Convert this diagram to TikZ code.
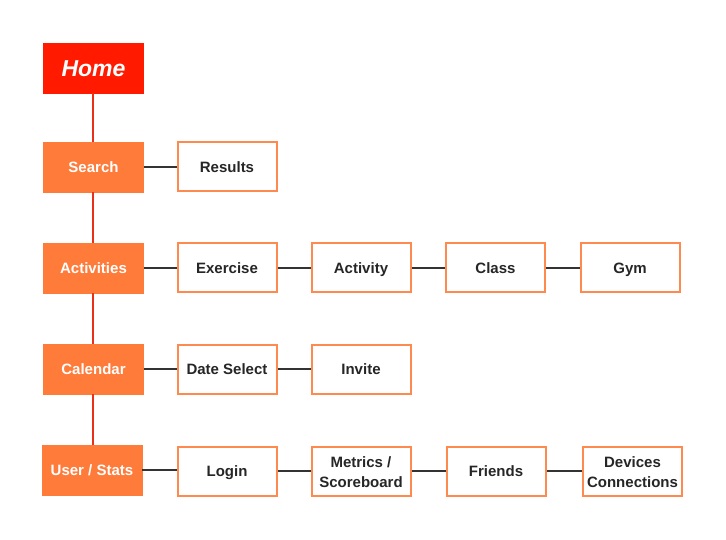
\documentclass[tikz,border=0pt]{standalone}
\usepackage{fontspec}
\setmainfont{Liberation Sans}
\definecolor{homered}{HTML}{FF1A00}
\definecolor{secorange}{HTML}{FF7B3A}
\definecolor{edgeorange}{HTML}{FF8A50}
\definecolor{linedark}{HTML}{333333}
\definecolor{vred}{HTML}{E8301A}
\newcommand\boxstrut{\rule[-3pt]{0pt}{17pt}}
\newcommand\homestrut{\rule[-3.5pt]{0pt}{23.5pt}}
\begin{document}
\begin{tikzpicture}[x=1pt,y=-1pt,
  base/.style={minimum width=100pt,minimum height=50pt,inner sep=0pt,align=center,font=\fontsize{15}{20}\selectfont\bfseries,execute at begin node=\boxstrut,execute at end node=\boxstrut},
  homebox/.style={base,fill=homered,draw=homered,text=white,font=\fontsize{23}{27}\selectfont\bfseries\itshape,execute at begin node=\homestrut,execute at end node=\homestrut},
  secbox/.style={base,fill=secorange,draw=secorange,text=white},
  pagebox/.style={base,fill=white,draw=edgeorange,line width=2pt,minimum width=99pt,minimum height=49pt,text=black!85},
  twoline/.style={execute at begin node={},execute at end node={},text height=36pt,text depth=3pt},
  hline/.style={draw=linedark,line width=1.3pt},
  vline/.style={draw=vred,line width=1.3pt}]
\useasboundingbox (0,0) rectangle (726,540);
\node[homebox] (home) at (93.5,68) {Home};
\node[secbox] (search) at (93.5,167) {Search};
\node[secbox] (activities) at (93.5,268) {Activities};
\node[secbox] (calendar) at (93.5,369) {Calendar};
\node[secbox] (user) at (92,470) {User / Stats};
\node[pagebox] (results) at (227,167) {Results};
\node[pagebox] (exercise) at (227,268) {Exercise};
\node[pagebox] (activity) at (361,268) {Activity};
\node[pagebox] (class) at (495.5,268) {Class};
\node[pagebox] (gym) at (630,268) {Gym};
\node[pagebox] (date) at (227,369) {Date Select};
\node[pagebox] (invite) at (361,369) {Invite};
\node[pagebox] (login) at (227,471) {Login};
\node[pagebox,twoline] (metrics) at (361,471) {Metrics /\\Scoreboard};
\node[pagebox] (friends) at (496,471) {Friends};
\node[pagebox,twoline] (devices) at (632.5,471) {Devices\\Connections};
\draw[vline] (home.south -| 93,0) -- (search.north -| 93,0);
\draw[vline] (search.south -| 93,0) -- (activities.north -| 93,0);
\draw[vline] (activities.south -| 93,0) -- (calendar.north -| 93,0);
\draw[vline] (calendar.south -| 93,0) -- (user.north -| 93,0);
\draw[hline] (search) -- (results);
\draw[hline] (activities) -- (exercise);
\draw[hline] (exercise) -- (activity);
\draw[hline] (activity) -- (class);
\draw[hline] (class) -- (gym);
\draw[hline] (calendar) -- (date);
\draw[hline] (date) -- (invite);
\draw[hline] (user.east) -- (login.west |- user.east);
\draw[hline] (login) -- (metrics);
\draw[hline] (metrics) -- (friends);
\draw[hline] (friends) -- (devices);
\end{tikzpicture}
\end{document}
